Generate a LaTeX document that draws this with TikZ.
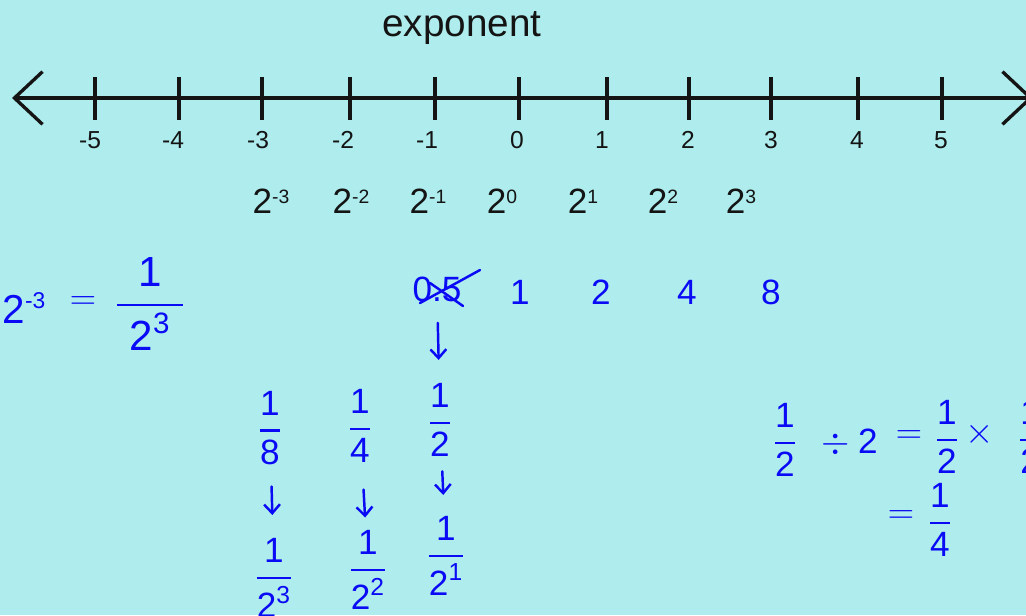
\documentclass[tikz,border=0pt]{standalone}
\usepackage{amsmath}
\usepackage{fontspec}
\setmainfont{Liberation Sans}
\usetikzlibrary{arrows.meta}
\definecolor{sky}{RGB}{174,236,237}
\definecolor{penblue}{RGB}{10,10,245}
\definecolor{ink}{RGB}{20,20,20}

\newcommand{\pw}[1]{2\raisebox{5.5pt}{\fontsize{11}{12}\selectfont#1}}
\newcommand{\hf}[2]{$\genfrac{}{}{1.3pt}{0}{\text{#1}}{#2}$}
\newcommand{\tp}[1]{\text{2}^{\text{#1}}}

\tikzset{
  numtick/.style={draw=ink, line width=1.9pt},
  ticklbl/.style={font=\fontsize{14}{16}\selectfont, text=ink, inner sep=0pt},
  powlbl/.style={font=\fontsize{20}{24}\selectfont, text=ink, anchor=base, inner sep=0pt},
  val/.style={font=\fontsize{20}{24}\selectfont, text=penblue, anchor=base, inner sep=0pt},
  hand/.style={font=\fontsize{20}{24}\selectfont, text=penblue, inner sep=0pt},
  pen/.style={draw=penblue, line width=1.4pt, line cap=round},
  penarrow/.style={pen, -{Straight Barb[length=5pt,width=9pt]}},
}

\begin{document}
\begin{tikzpicture}[x=0.02cm, y=-0.02cm]
\fill[sky] (0,0) rectangle (1026,615);
\useasboundingbox (0,0) rectangle (1026,615);

% number line
\node[font=\fontsize{22}{26}\selectfont, text=ink, anchor=base] (title) at (462,37) {exponent};
\draw[draw=ink, line width=1.9pt,
  {Straight Barb[length=16pt,width=30pt]}-{Straight Barb[length=16pt,width=30pt]}]
  (12,98) -- (1033,98);
\foreach \t/\l/\v in {95/90/-5, 179/173/-4, 262/258/-3, 350/343/-2, 435/427/-1,
    519/517/0, 607/602/1, 689/688/2, 771/771/3, 858/857/4, 942/941/5} {
  \draw[numtick] (\t,77) -- (\t,120);
  \node[ticklbl] (n\v) at (\l,140) {\v};
}

% powers of two
\node[powlbl] (p-3) at (271,213) {\pw{-3}};
\node[powlbl] (p-2) at (351,213) {\pw{-2}};
\node[powlbl] (p-1) at (428,213) {\pw{-1}};
\node[powlbl] (p0) at (502,213) {\pw{0}};
\node[powlbl] (p1) at (583,213) {\pw{1}};
\node[powlbl] (p2) at (663,213) {\pw{2}};
\node[powlbl] (p3) at (741,213) {\pw{3}};

% values
\node[val] (v1) at (520,304) {1};
\node[val] (v2) at (601,304) {2};
\node[val] (v4) at (687,304) {4};
\node[val] (v8) at (771,304) {8};
\node[hand] (c05) at (437,289) {0.5};
\draw[pen] (c05.center) ++(-17,14) -- ++(60,-33);
\draw[pen] (c05.center) ++(-7,-6) -- ++(33,23);

% left note
\node[hand, font=\fontsize{23}{28}\selectfont] (l2) at (24,308) {2\raisebox{9pt}{\fontsize{13}{16}\selectfont -3}};
\node[hand] (leq) at (83,303) {$=$};
\node[hand, font=\fontsize{24}{28}\selectfont] (lfrac) at (150,304) {\hf{1}{\;\tp{3}\;}};

% fractions
\node[hand] (f8) at (270,428) {\hf{1}{\text{8}}};
\node[hand] (f4) at (360,426) {\hf{1}{\text{4}}};
\node[hand] (f2) at (440,420) {\hf{1}{\text{2}}};
\node[hand] (g8) at (274,578) {\hf{1}{\tp{3}}};
\node[hand] (g4) at (368,570) {\hf{1}{\tp{2}}};
\node[hand] (g2) at (446,556) {\hf{1}{\tp{1}}};
\draw[penarrow, shorten <=12pt, shorten >=13pt] (c05) -- (f2);
\draw[penarrow, shorten <=12pt, shorten >=13pt] (f8) -- (g8);
\draw[penarrow, shorten <=15pt, shorten >=7pt] (f4) -- (g4);
\draw[penarrow, shorten <=8pt, shorten >=12pt] (f2) -- (g2);

% right note
\node[hand] (r1) at (785,440) {\hf{1}{\text{2}}};
\node[hand] (rdiv) at (836,444) {$\div$};
\node[hand] (r2) at (868,441) {2};
\node[hand] (req) at (909,437) {$=$};
\node[hand] (r3) at (947,437) {\hf{1}{\text{2}}};
\node[hand] (rtimes) at (980,434) {$\times$};
\node[hand] (r4) at (1030,437) {\hf{1}{\text{2}}};
\node[hand] (req2) at (901,517) {$=$};
\node[hand] (r5) at (940,520) {\hf{1}{\text{4}}};
\end{tikzpicture}
\end{document}
